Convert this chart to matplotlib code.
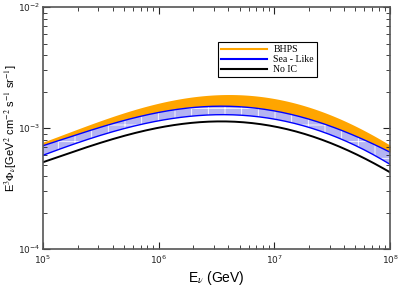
import numpy as np
import matplotlib
matplotlib.use("Agg")
import matplotlib.pyplot as plt
from matplotlib.ticker import LogLocator, LogFormatterMathtext, NullFormatter

plt.rcParams['mathtext.fontset'] = 'stix'
plt.rcParams['hatch.linewidth'] = 0.6

# energy grid (GeV) and flux values
energy = [1e5, 3.16e5, 1e6, 2.75e6, 9.1e6, 3.0e7, 1e8]
bhps_hi = [7.7e-4, 1.13e-3, 1.65e-3, 1.87e-3, 1.74e-3, 1.32e-3, 7.2e-4]
bhps_lo = [7.2e-4, 9.9e-4, 1.41e-3, 1.48e-3, 1.39e-3, 1.06e-3, 6.3e-4]
sea_hi = [7.2e-4, 9.9e-4, 1.41e-3, 1.48e-3, 1.39e-3, 1.06e-3, 6.3e-4]
sea_lo = [6.0e-4, 8.5e-4, 1.20e-3, 1.26e-3, 1.19e-3, 9.0e-4, 5.0e-4]
no_ic = [5.25e-4, 7.45e-4, 1.03e-3, 1.13e-3, 1.03e-3, 7.7e-4, 4.3e-4]

# smooth curves in log-log space
logE = np.log10(energy)
xs = np.linspace(logE[0], logE[-1], 200)
def smooth(vals):
    c = np.polyfit(logE, np.log10(vals), 4)
    return 10 ** np.polyval(c, xs)
E = 10 ** xs

fig = plt.figure(figsize=(3.98, 2.86), dpi=100)
ax = fig.add_axes([0.108, 0.129, 0.872, 0.846])

ax.fill_between(E, smooth(bhps_lo), smooth(bhps_hi), color='orange', lw=0)
ax.fill_between(E, smooth(sea_lo), smooth(sea_hi), facecolor='#b4b4f2',
                edgecolor='white', hatch='+', lw=0)
ax.plot(E, smooth(sea_hi), color='blue', lw=1)
ax.plot(E, smooth(sea_lo), color='blue', lw=1)
ax.plot(E, smooth(no_ic), color='black', lw=1.4)

# legend proxies
ax.plot([], [], color='orange', lw=1.5, label='BHPS')
ax.plot([], [], color='blue', lw=1.5, label='Sea - Like')
ax.plot([], [], color='black', lw=1.5, label='No IC')
handles, labels = ax.get_legend_handles_labels()
leg = ax.legend(handles[-3:], labels[-3:], loc='upper left', bbox_to_anchor=(0.49, 0.875),
                fancybox=False, edgecolor='black', framealpha=1,
                prop={'family': 'Liberation Serif', 'size': 7},
                handlelength=4.8, borderpad=0.3, labelspacing=0.1, handletextpad=0.6)
leg.get_frame().set_linewidth(0.8)

ax.set_xscale('log')
ax.set_yscale('log')
ax.set_xlim(1e5, 1e8)
ax.set_ylim(1e-4, 1e-2)

for ax_ in (ax.xaxis, ax.yaxis):
    ax_.set_major_locator(LogLocator(base=10))
    ax_.set_minor_locator(LogLocator(base=10, subs=np.arange(2, 10)))
    ax_.set_major_formatter(LogFormatterMathtext())
    ax_.set_minor_formatter(NullFormatter())
ax.tick_params(which='both', direction='in', top=True, right=True,
               labelsize=6.5, colors='#222222')
ax.tick_params(axis='y', which='both', pad=2)
ax.tick_params(which='major', length=5, width=0.8)
ax.tick_params(which='minor', length=3, width=0.6)
for s in ax.spines.values():
    s.set_color('#555555')
    s.set_linewidth(1.2)

ax.set_xlabel(r'E$_{\nu}$ (GeV)', fontsize=10, family='Liberation Sans', labelpad=2)
ax.set_ylabel(r'E$^3$$\Phi_{\nu}$[GeV$^2$ cm$^{-2}$ s$^{-1}$ sr$^{-1}$]', fontsize=8,
              family='Liberation Sans')
ax.yaxis.set_label_coords(-0.07, 0.5)

fig.savefig('out.png', dpi=100)
